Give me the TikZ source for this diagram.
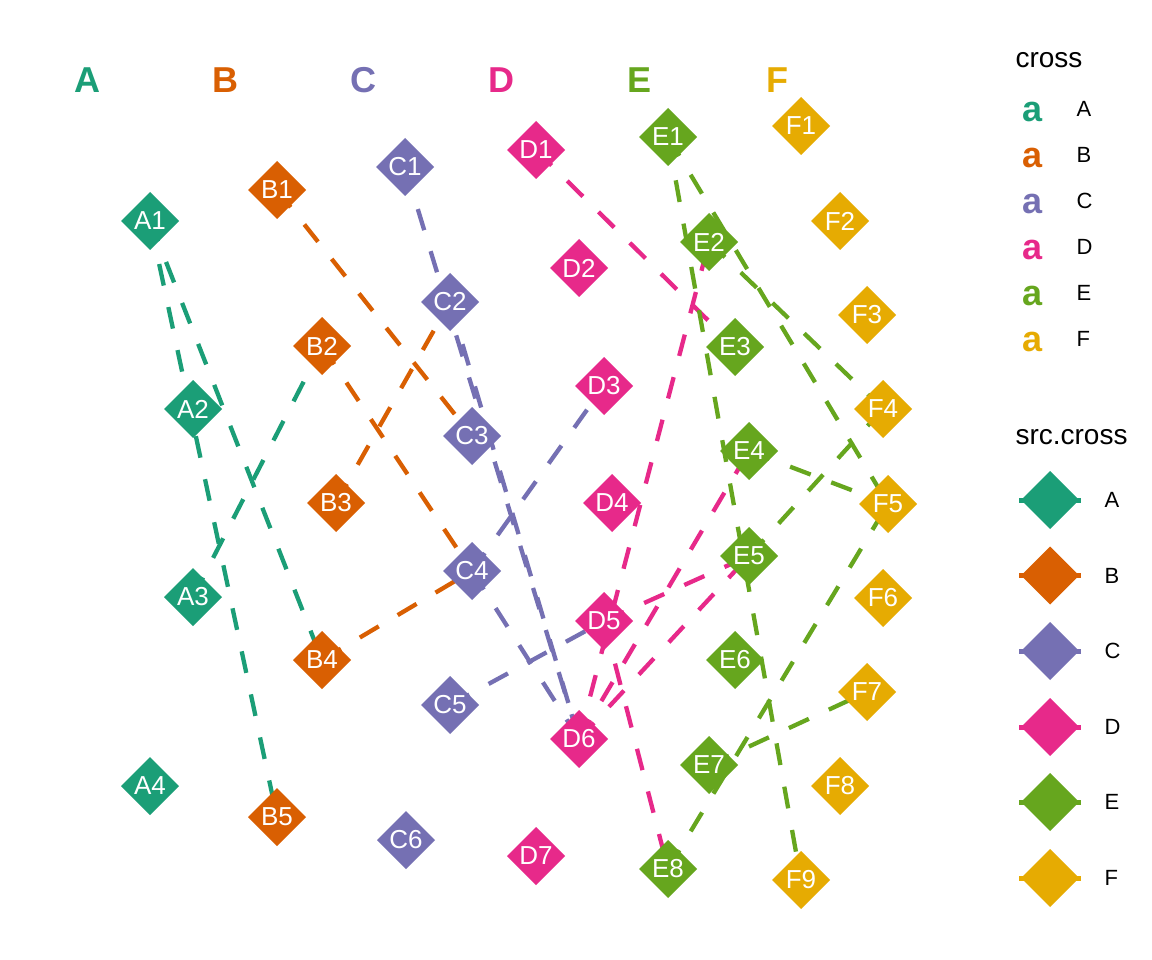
\documentclass[tikz,border=0pt]{standalone}
\usepackage{fontspec}
\setmainfont{Liberation Sans}
\usetikzlibrary{shapes.geometric}
\definecolor{cA}{HTML}{1B9E77}
\definecolor{cB}{HTML}{D95F02}
\definecolor{cC}{HTML}{7570B3}
\definecolor{cD}{HTML}{E7298A}
\definecolor{cE}{HTML}{66A61E}
\definecolor{cF}{HTML}{E6AB02}
\pgfdeclarelayer{back}
\pgfdeclarelayer{mid}
\pgfsetlayers{back,mid,main}
\begin{document}
\begin{tikzpicture}[x=1pt,y=-1pt,
  dia/.style={diamond, fill=#1, minimum width=58pt, minimum height=58pt, inner sep=0pt, outer sep=0pt, text=white, font=\fontsize{26}{26}\selectfont},
  lnk/.style={draw=#1, line width=4.3pt, dash pattern=on 22pt off 22pt, line cap=butt},
  hdr/.style={text=#1, font=\fontsize{36}{36}\selectfont\bfseries},
  ttl/.style={anchor=west, font=\fontsize{28}{28}\selectfont},
  lab/.style={anchor=west, font=\fontsize{22}{22}\selectfont},
  akey/.style={text=#1, font=\fontsize{36}{36}\selectfont\bfseries},
  stub/.style={draw=#1, line width=5pt}]
\begin{pgfonlayer}{back}
\fill[white] (0,0) rectangle (1152,960);
\end{pgfonlayer}
\useasboundingbox (0,0) rectangle (1152,960);

% headers
\node[hdr=cA] (hA) at (87,80) {A};
\node[hdr=cB] (hB) at (225,80) {B};
\node[hdr=cC] (hC) at (363,80) {C};
\node[hdr=cD] (hD) at (501,80) {D};
\node[hdr=cE] (hE) at (639,80) {E};
\node[hdr=cF] (hF) at (777,80) {F};

% nodes
\node[dia=cA] (A1) at (150,221) {A1};
\node[dia=cA] (A2) at (193,409) {A2};
\node[dia=cA] (A3) at (193,597) {A3};
\node[dia=cA] (A4) at (150,786) {A4};
\node[dia=cB] (B1) at (277,190) {B1};
\node[dia=cB] (B2) at (322,346) {B2};
\node[dia=cB] (B3) at (336,503) {B3};
\node[dia=cB] (B4) at (322,660) {B4};
\node[dia=cB] (B5) at (277,817) {B5};
\node[dia=cC] (C1) at (405,167) {C1};
\node[dia=cC] (C2) at (450,302) {C2};
\node[dia=cC] (C3) at (472,436) {C3};
\node[dia=cC] (C4) at (472,571) {C4};
\node[dia=cC] (C5) at (450,705) {C5};
\node[dia=cC] (C6) at (406,840) {C6};
\node[dia=cD] (D1) at (536,150) {D1};
\node[dia=cD] (D2) at (579,268) {D2};
\node[dia=cD] (D3) at (604,386) {D3};
\node[dia=cD] (D4) at (612,503) {D4};
\node[dia=cD] (D5) at (604,621) {D5};
\node[dia=cD] (D6) at (579,739) {D6};
\node[dia=cD] (D7) at (536,856) {D7};
\node[dia=cE] (E1) at (668,137) {E1};
\node[dia=cE] (E2) at (709,242) {E2};
\node[dia=cE] (E3) at (735,347) {E3};
\node[dia=cE] (E4) at (749,451) {E4};
\node[dia=cE] (E5) at (749,556) {E5};
\node[dia=cE] (E6) at (735,660) {E6};
\node[dia=cE] (E7) at (709,765) {E7};
\node[dia=cE] (E8) at (668,869) {E8};
\node[dia=cF] (F1) at (801,126) {F1};
\node[dia=cF] (F2) at (840,221) {F2};
\node[dia=cF] (F3) at (867,315) {F3};
\node[dia=cF] (F4) at (883,409) {F4};
\node[dia=cF] (F5) at (888,504) {F5};
\node[dia=cF] (F6) at (883,598) {F6};
\node[dia=cF] (F7) at (867,692) {F7};
\node[dia=cF] (F8) at (840,786) {F8};
\node[dia=cF] (F9) at (801,880) {F9};

% edges
\begin{pgfonlayer}{mid}
\draw[lnk=cA] (A1.center) -- (B5.center);
\draw[lnk=cA] (A1.center) -- (B4.center);
\draw[lnk=cA] (A3.center) -- (B2.center);
\draw[lnk=cB] (B1.center) -- (C3.center);
\draw[lnk=cB] (B2.center) -- (C4.center);
\draw[lnk=cB] (B3.center) -- (C2.center);
\draw[lnk=cB] (B4.center) -- (C4.center);
\draw[lnk=cC] (C1.center) -- (D6.center);
\draw[lnk=cC] (C2.center) -- (D6.center);
\draw[lnk=cC] (C4.center) -- (D6.center);
\draw[lnk=cC] (C5.center) -- (D5.center);
\draw[lnk=cC] (C4.center) -- (D3.center);
\draw[lnk=cD] (D1.center) -- (E3.center);
\draw[lnk=cD] (D6.center) -- (E2.center);
\draw[lnk=cD] (D5.center) -- (E8.center);
\draw[lnk=cD] (D6.center) -- (E4.center);
\draw[lnk=cD] (D6.center) -- (E5.center);
\draw[lnk=cD] (D5.center) -- (E5.center);
\draw[lnk=cE] (E1.center) -- (F9.center);
\draw[lnk=cE] (E1.center) -- (F5.center);
\draw[lnk=cE] (E2.center) -- (F4.center);
\draw[lnk=cE] (E4.center) -- (F5.center);
\draw[lnk=cE] (E5.center) -- (F4.center);
\draw[lnk=cE] (E8.center) -- (F5.center);
\draw[lnk=cE] (E7.center) -- (F7.center);
\end{pgfonlayer}

% legend: cross
\node[ttl] (t1) at (1012,60) {cross};
\node[akey=cA] (ka) at (1033,112) {a}; \node[lab] (la) at (1073,109) {A};
\node[akey=cB] (kb) at (1033,158) {a}; \node[lab] (lb) at (1073,155) {B};
\node[akey=cC] (kc) at (1033,204) {a}; \node[lab] (lc) at (1073,201) {C};
\node[akey=cD] (kd) at (1033,250) {a}; \node[lab] (ld) at (1073,247) {D};
\node[akey=cE] (ke) at (1033,296) {a}; \node[lab] (le) at (1073,293) {E};
\node[akey=cF] (kf) at (1033,342) {a}; \node[lab] (lf) at (1073,339) {F};

% legend: src.cross
\node[ttl] (t2) at (1012,437) {src.cross};
\foreach \c/\y in {A/500,B/575.5,C/651,D/727,E/802,F/878}{
  \draw[stub=c\c] (1019,\y) -- (1081,\y);
  \node[dia=c\c] (s\c) at (1050,\y) {};
  \node[lab] (sl\c) at (1101,\y) {\c};
}
\end{tikzpicture}
\end{document}
